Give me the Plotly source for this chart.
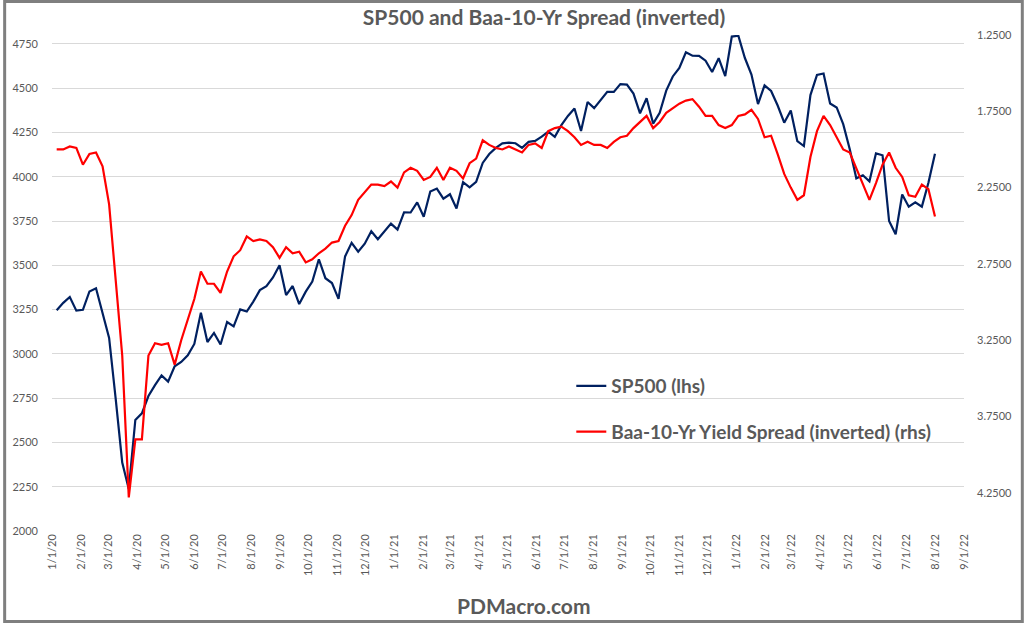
import pandas as pd
import plotly.graph_objects as go

# Weekly (Monday) observations
dates = pd.date_range("2020-01-06", "2022-08-01", freq="W-MON")

sp500_2020 = [3246, 3288, 3321, 3244, 3249, 3352, 3370, 3226, 3090, 2747, 2386, 2237,
              2627, 2664, 2762, 2823, 2878, 2843, 2930, 2954, 2992, 3056, 3232, 3067,
              3118, 3053, 3180, 3155, 3251, 3239, 3295, 3360, 3382, 3431, 3500, 3332,
              3383, 3281, 3351, 3408, 3534, 3427, 3400, 3310, 3550, 3627, 3577, 3622,
              3692, 3647, 3694, 3735]
sp500_2021 = [3701, 3799, 3798, 3855, 3774, 3916, 3933, 3876, 3901, 3821, 3969, 3940,
              3971, 4078, 4128, 4163, 4188, 4192, 4189, 4163, 4197, 4202, 4226, 4255,
              4225, 4291, 4343, 4385, 4258, 4422, 4387, 4432, 4479, 4479, 4523, 4520,
              4469, 4358, 4443, 4300, 4361, 4486, 4566, 4614, 4702, 4683, 4682, 4655,
              4591, 4669, 4568, 4791]
sp500_2022 = [4796, 4670, 4577, 4410, 4516, 4484, 4402, 4305, 4374, 4201, 4173, 4461,
              4575, 4583, 4413, 4391, 4297, 4155, 3991, 4008, 3974, 4132, 4121, 3750,
              3675, 3900, 3831, 3855, 3831, 3966, 4130]

spread_2020 = [2.00, 2.00, 1.98, 1.99, 2.10, 2.03, 2.02, 2.11, 2.36, 2.88, 3.35, 4.28,
               3.90, 3.90, 3.35, 3.27, 3.28, 3.27, 3.41, 3.25, 3.12, 2.98, 2.80, 2.88,
               2.88, 2.94, 2.80, 2.70, 2.66, 2.57, 2.60, 2.59, 2.60, 2.64, 2.71, 2.64,
               2.68, 2.67, 2.74, 2.72, 2.68, 2.65, 2.61, 2.60, 2.50, 2.43, 2.33, 2.28,
               2.23, 2.23, 2.24, 2.21]
spread_2021 = [2.25, 2.15, 2.12, 2.14, 2.20, 2.18, 2.12, 2.20, 2.12, 2.14, 2.19, 2.09,
               2.06, 1.94, 1.97, 1.99, 2.00, 1.98, 2.00, 2.02, 1.97, 1.96, 1.99, 1.88,
               1.86, 1.85, 1.88, 1.92, 1.97, 1.95, 1.97, 1.97, 1.99, 1.95, 1.92, 1.91,
               1.86, 1.82, 1.78, 1.86, 1.82, 1.76, 1.73, 1.70, 1.68, 1.67, 1.72, 1.78,
               1.78, 1.84, 1.86, 1.84]
spread_2022 = [1.78, 1.77, 1.74, 1.80, 1.92, 1.91, 2.03, 2.16, 2.25, 2.33, 2.30, 2.05,
               1.88, 1.78, 1.84, 1.92, 2.00, 2.02, 2.12, 2.22, 2.33, 2.22, 2.10, 2.02,
               2.12, 2.18, 2.30, 2.31, 2.23, 2.26, 2.44]

sp500 = sp500_2020 + sp500_2021 + sp500_2022
spread = spread_2020 + spread_2021 + spread_2022

left_ticks = list(range(2000, 4751, 250))
right_ticks = [1.25, 1.75, 2.25, 2.75, 3.25, 3.75, 4.25]
x_ticks = pd.date_range("2020-01-01", "2022-09-01", freq="MS")

W, H = 1024, 623
L, R, T, B = 49, 60, 35, 92
pw, ph = W - L - R, H - T - B

fig = go.Figure()
fig.add_trace(go.Scatter(x=dates, y=sp500, mode="lines", name="<b>SP500 (lhs)</b>",
                         line=dict(color="#002060", width=2.2), legendgroup="a"))
fig.add_trace(go.Scatter(x=dates, y=spread, mode="lines",
                         name="<b>Baa-10-Yr Yield Spread (inverted) (rhs)</b>",
                         line=dict(color="#FF0000", width=2.2), yaxis="y2", legendgroup="b"))

gray = "#595959"
fig.update_layout(
    width=W, height=H,
    margin=dict(l=L, r=R, t=T, b=B),
    paper_bgcolor="white", plot_bgcolor="white",
    font=dict(family="Lato", color=gray, size=11),
    title=dict(text="<b>SP500 and Baa-10-Yr Spread (inverted)</b>",
               x=544 / W, xref="container", xanchor="center",
               y=1 - 18 / H, yref="container", yanchor="middle",
               font=dict(family="Lato", size=21, color=gray)),
    xaxis=dict(type="date", range=["2020-01-01", "2022-09-01"],
               tickvals=list(x_ticks), tickformat="%-m/%-d/%y", tickangle=-90,
               showgrid=False, showline=False, zeroline=False,
               tickfont=dict(size=11, color=gray, family="Lato")),
    yaxis=dict(range=[2000, 4800], tickvals=left_ticks, showgrid=True,
               gridcolor="#d9d9d9", gridwidth=1, zeroline=False, showline=False,
               ticklabelstandoff=13,
               tickfont=dict(size=11, color=gray, family="Lato")),
    yaxis2=dict(range=[4.5, 1.25], tickvals=right_ticks, tickformat=".4f",
                overlaying="y", side="right", showgrid=False, zeroline=False,
                showline=False, ticklabelstandoff=12,
                tickfont=dict(size=11, color=gray, family="Lato")),
    legend=dict(x=(570 - L) / pw, y=(T + ph - 367) / ph, xanchor="left",
                yanchor="top", bgcolor="rgba(0,0,0,0)", tracegroupgap=18,
                traceorder="grouped",
                font=dict(family="Lato", size=19, color=gray), itemwidth=30),
    showlegend=True,
)

fig.add_annotation(text="<b>PDMacro.com</b>", xref="paper", yref="paper",
                   x=(523 - L) / pw, y=-(605 - (T + ph)) / ph, showarrow=False,
                   xanchor="center", yanchor="middle",
                   font=dict(family="Lato", size=21, color=gray))

fig.add_shape(type="rect", xref="paper", yref="paper",
              x0=-(L - 1.5) / pw, x1=(W - L - 1.5) / pw,
              y0=-(H - T - ph - 1.5) / ph, y1=1 + (T - 1.5) / ph,
              line=dict(color="#7f7f7f", width=3), fillcolor="rgba(0,0,0,0)")

fig.write_html("out.html", config={"displayModeBar": False},
               post_script="document.body.style.margin='0px';document.body.style.overflow='hidden';")
